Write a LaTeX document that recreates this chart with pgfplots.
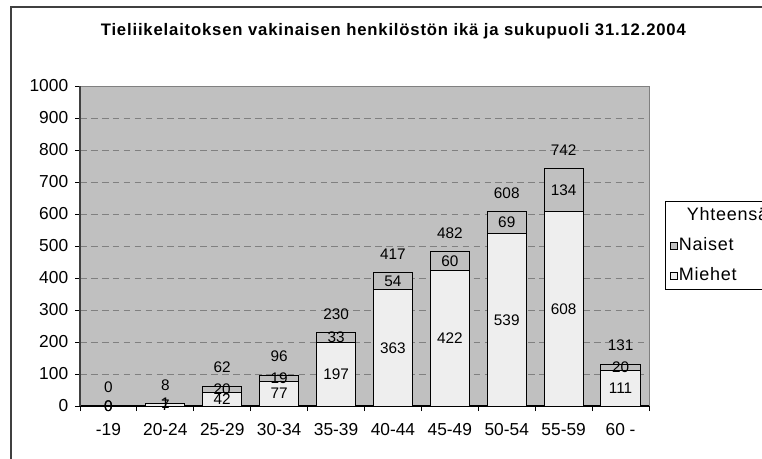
\documentclass[border=0pt]{standalone}
\usepackage{fontspec}
\setmainfont{Liberation Sans}
\usepackage{pgfplots}
\usepackage{pgfplotstable}
\pgfplotsset{compat=1.18}
\definecolor{plotbg}{HTML}{C0C0C0}
\definecolor{mieh}{HTML}{EEEEEE}
\definecolor{nais}{HTML}{C0C0C0}
\definecolor{gridc}{HTML}{808080}
\definecolor{frame}{HTML}{404040}
\pgfplotsset{sqlegend/.style={legend image code/.code={\draw[##1, line width=0.6pt] (0pt,-2.6pt) rectangle (5pt,2.4pt);}}}
\pgfplotstableread{
x M N T
0 0 0 0
1 7 1 8
2 42 20 62
3 77 19 96
4 197 33 230
5 363 54 417
6 422 60 482
7 539 69 608
8 608 134 742
9 111 20 131
}\data
\begin{document}
\begin{tikzpicture}
\useasboundingbox (0,0) rectangle (571.5pt,343.5pt);
\clip (0,0) rectangle (571.5pt,343.5pt);
\fill[white] (0,0) rectangle (571.5pt,343.5pt);
\draw[frame, line width=1.1pt] (8.25pt,-10pt) rectangle (600pt,338.25pt);
\node[font=\bfseries\fontsize{12.5}{14}\selectfont\addfontfeature{LetterSpace=5}] at (295pt,320.25pt) {Tieliikelaitoksen vakinaisen henkilöstön ikä ja sukupuoli 31.12.2004};
\begin{axis}[
  at={(60pt,39pt)}, anchor=south west,
  scale only axis, width=426.75pt, height=240pt,
  ybar stacked, bar width=0.69,
  xmin=-0.5, xmax=9.5, ymin=0, ymax=1000,
  ytick={0,100,...,1000},
  xtick={-0.5,0.5,...,9.5},
  x tick label as interval,
  xticklabels={-19,20-24,25-29,30-34,35-39,40-44,45-49,50-54,55-59,60 -},
  axis lines*=left,
  axis line style={-},
  y axis line style={frame, line width=1.1pt},
  x axis line style={black, line width=0.8pt},
  axis background/.style={fill=plotbg, draw=gridc, line width=0.75pt},
  ymajorgrids,
  major grid style={gridc, line width=0.6pt, dash pattern=on 5pt off 3.2pt},
  tick align=outside, major tick length=3.75pt,
  tick style={black, line width=0.75pt},
  /pgf/number format/assume math mode=true,
  /pgf/number format/1000 sep={},
  yticklabel style={font=\fontsize{13}{15}\selectfont, xshift=-1.6pt},
  xticklabel style={font=\fontsize{13}{15}\selectfont, yshift=-6pt},
  reverse legend,
  legend style={at={(axis description cs:1.0281,0.6406)}, anchor=north west,
    draw=black, line width=0.75pt, fill=white,
    font=\fontsize{13.5}{16}\selectfont\addfontfeature{LetterSpace=4},
    inner xsep=3.5pt, inner ysep=3pt, row sep=7.5pt,
    nodes={inner sep=1pt, text height=10pt, text depth=3pt}},
  legend cell align=left,
]
\addplot[fill=mieh, draw=black, line width=0.75pt, sqlegend]
  table[x=x, y=M] {\data};
\addlegendentry{Miehet}
\addplot[fill=nais, draw=black, line width=0.75pt, sqlegend]
  table[x=x, y=N] {\data};
\addlegendentry{Naiset}
\addlegendimage{empty legend}
\addlegendentry{\hspace*{6pt}Yhteensä\hspace*{25pt}}
\end{axis}
\begin{axis}[
  at={(60pt,39pt)}, anchor=south west,
  scale only axis, width=426.75pt, height=240pt,
  xmin=-0.5, xmax=9.5, ymin=0, ymax=1000,
  hide axis, clip=false,
  /pgf/number format/assume math mode=true,
  /pgf/number format/1000 sep={},
  nodes near coords,
  every node near coord/.style={anchor=center, inner sep=0pt, font=\fontsize{11.5}{13}\selectfont, black},
]
\addplot[draw=none, mark=none, point meta=\thisrow{M}]
  table[x=x, y expr=0.5*\thisrow{M}] {\data};
\addplot[draw=none, mark=none, point meta=\thisrow{N}]
  table[x=x, y expr=\thisrow{M}+0.5*\thisrow{N}] {\data};
\addplot[draw=none, mark=none, point meta=\thisrow{T},
  every node near coord/.append style={yshift=14pt}]
  table[x=x, y=T] {\data};
\end{axis}
\end{tikzpicture}
\end{document}
